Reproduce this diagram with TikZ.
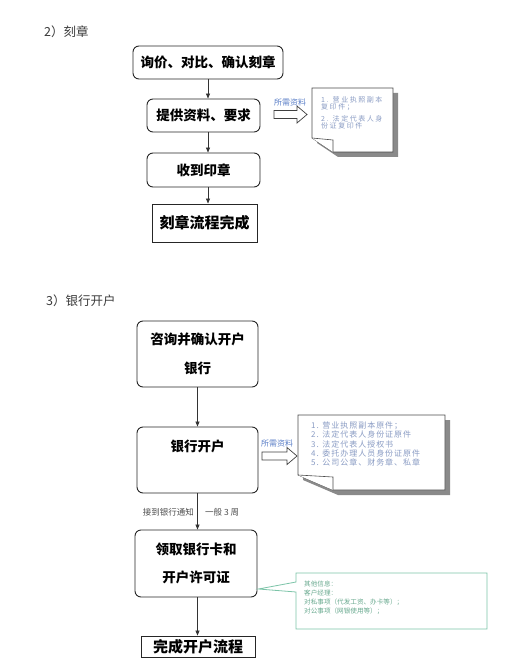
\documentclass[tikz,border=0pt]{standalone}
\usepackage{fontspec}
\newfontfamily\cjk{Noto Sans CJK SC}
\usetikzlibrary{arrows.meta}
\definecolor{notetext}{HTML}{8A9CC4}
\definecolor{labblue}{HTML}{5B7FC7}
\definecolor{greentext}{HTML}{6AAA90}
\definecolor{greenline}{HTML}{7CC4A8}
\definecolor{shadowc}{HTML}{8A8A8A}
\definecolor{headc}{HTML}{3A3A3A}
\begin{document}
\begin{tikzpicture}[x=1pt,y=-1pt,
  flow/.style={draw=black!85, line width=0.9pt, rounded corners=6pt, font=\cjk\bfseries\fontsize{13.5}{16}\selectfont, align=center, inner sep=0pt},
  sqbox/.style={draw=black!85, line width=0.9pt, font=\cjk\bfseries\fontsize{15}{18}\selectfont, inner sep=0pt},
  conn/.style={draw=black!80, line width=0.7pt, -{Triangle[length=5pt,width=4pt]}},
  head/.style={font=\cjk\fontsize{12.5}{15}\selectfont, text=headc, inner sep=0pt},
  lab/.style={font=\cjk\fontsize{8}{9}\selectfont, text=labblue, inner sep=0pt},
  glab/.style={font=\cjk\fontsize{8.5}{10}\selectfont, text=black!70, inner sep=0pt},
  blockarrow/.style={draw=black!75, line width=0.7pt, fill=white},
  notebox/.style={draw=black!70, line width=0.6pt, fill=white},
  notetxt/.style={font=\cjk\fontsize{7}{7.4}\selectfont, text=notetext, align=left, inner sep=0pt},
  greentxt/.style={font=\cjk\fontsize{6.6}{9}\selectfont, text=greentext, align=left, inner sep=0pt}
]
\useasboundingbox (0,0) rectangle (514,671);

% ---------- section 2 ----------
\node[head, anchor=west] (h2) at (44,32) {2）刻章};

\node[flow, minimum width=150pt, minimum height=33pt] (b1) at (208,62.5) {询价、对比、确认刻章};
\node[flow, minimum width=113pt, minimum height=33pt] (b2) at (203.5,115.5) {提供资料、要求};
\node[flow, minimum width=113pt, minimum height=34pt] (b3) at (203.5,170) {收到印章};
\node[sqbox, minimum width=105pt, minimum height=38pt] (b4) at (204.5,223) {刻章流程完成};

\draw[conn] (b1.south) -- (b1.south |- b2.north);
\draw[conn] (b1.south |- b2.south) -- (b1.south |- b3.north);
\draw[conn] (b1.south |- b3.south) -- (b1.south |- b4.north);

% block arrow 1 and label
\draw[blockarrow] (274,110.5) -- (297,110.5) -- (297,106) -- (307,114.5) -- (297,123) -- (297,118.5) -- (274,118.5) -- cycle;
\node[lab] (l1) at (290,102.5) {所需资料};

% note 1
\fill[shadowc] (317,93) -- (398,93) -- (398,157) -- (338,157) -- (317,143) -- cycle;
\draw[notebox] (312,88) -- (393,88) -- (393,152) -- (333,152) -- (312,138) -- cycle;
\draw[notebox] (312,138) -- (333,140) -- (333,152);
\node[notetxt, anchor=north west, font=\cjk\addfontfeatures{LetterSpace=22}\fontsize{7}{7.4}\selectfont] (n1) at (321,96) {1. 营业执照副本\\复印件；\\[4.3pt]2. 法定代表人身\\份证复印件};

% ---------- section 3 ----------
\node[head, anchor=west] (h3) at (46,301) {3）银行开户};

\node[flow, minimum width=121pt, minimum height=66pt] (b5) at (197.5,354) {咨询并确认开户\\[13pt]银行};
\node[flow, minimum width=121pt, minimum height=66pt] (b6) at (197.5,460) {};
\node[font=\cjk\bfseries\fontsize{13.5}{16}\selectfont, inner sep=0pt] (b6t) at ([yshift=-20pt]b6.north) {银行开户};
\node[flow, minimum width=122pt, minimum height=67pt] (b7) at (196,563.5) {领取银行卡和\\[12pt]开户许可证};
\node[sqbox, minimum width=114pt, minimum height=21pt] (b8) at (198,646.5) {完成开户流程};

\draw[conn] (b5.south) -- (b5.south |- b6.north);
\draw[conn] (b5.south |- b6.south) -- (b5.south |- b7.north);
\draw[conn] (b5.south |- b7.south) -- (b5.south |- b8.north);

\node[glab, anchor=east] (w1) at (194,512) {接到银行通知};
\node[glab, anchor=west] (w2) at (205,512) {一般 3 周};

% block arrow 2 and label
\draw[blockarrow] (262,452) -- (287,452) -- (287,447.5) -- (297,456) -- (287,464.5) -- (287,460) -- (262,460) -- cycle;
\node[lab] (l2) at (277,443) {所需资料};

% note 2
\fill[shadowc] (303,420) -- (450,420) -- (450,495) -- (338,495) -- (303,480) -- cycle;
\draw[notebox] (298,415) -- (445,415) -- (445,490) -- (333,490) -- (298,475) -- cycle;
\draw[notebox] (298,475) -- (333,477) -- (333,490);
\node[notetxt, anchor=north west, font=\cjk\addfontfeatures{LetterSpace=12}\fontsize{8}{9.3}\selectfont] (n2) at (311,421.5) {1. 营业执照副本原件；\\2. 法定代表人身份证原件\\3. 法定代表人授权书\\4. 委托办理人员身份证原件\\5. 公司公章、财务章、私章};

% green callout
\coordinate (tip) at ([xshift=1pt,yshift=-25.5pt]b7.east);
\draw[draw=greenline, line width=0.8pt, fill=white] (296,573) -- (487,573) -- (487,629) -- (296,629) -- (296,592) -- (tip) -- (296,582) -- cycle;
\node[greentxt, anchor=north west] (g1) at (304,580.5) {其他信息：\\客户经理：\\对私事项（代发工资、办卡等）；\\对公事项（网银使用等）；};
\end{tikzpicture}
\end{document}
